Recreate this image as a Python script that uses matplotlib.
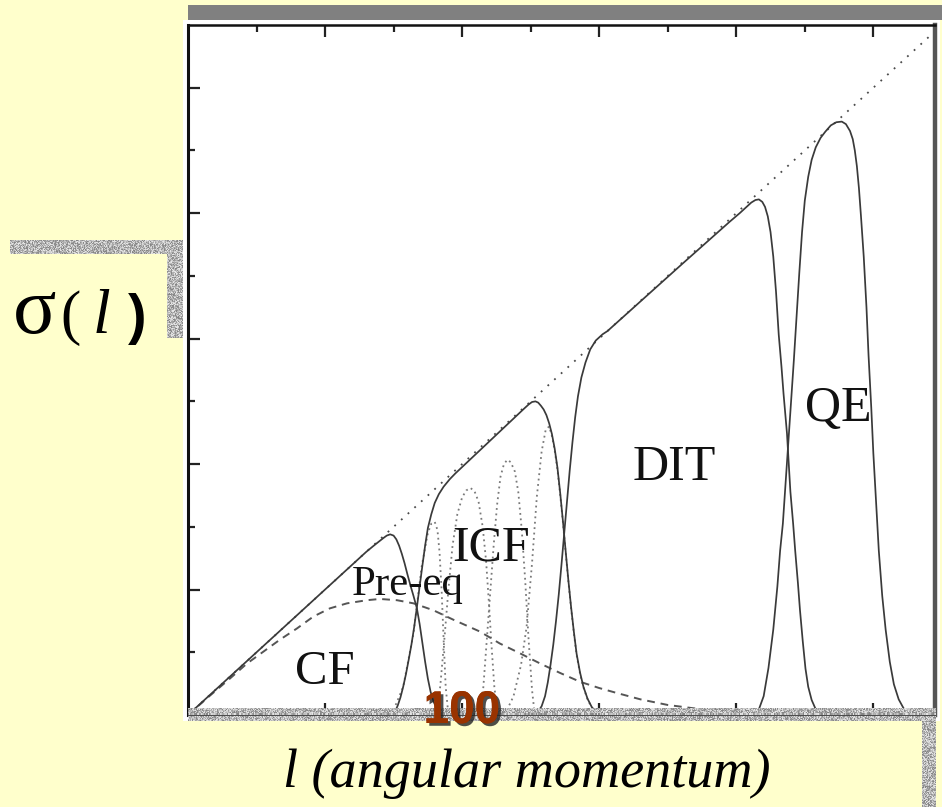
import numpy as np
import matplotlib
matplotlib.use("Agg")
import matplotlib.pyplot as plt
from matplotlib.patches import Rectangle
import matplotlib.patheffects as pe

# ---- partial cross sections sigma(l) versus angular momentum l ----
cf_l = [0.0, 2.6, 2.7, 2.78, 2.85, 2.9, 2.95, 3.0, 3.04, 3.08, 3.12, 3.16, 3.2, 3.25, 3.29,
        3.34, 3.38, 3.42, 3.46, 3.5, 3.54, 3.58, 3.63, 3.68, 3.74]
cf_s = [0.0, 2.6, 2.69, 2.76, 2.82, 2.86, 2.88, 2.86, 2.8, 2.7, 2.57, 2.42, 2.25, 2.05, 1.9,
        1.7, 1.45, 1.15, 0.85, 0.58, 0.37, 0.22, 0.1, 0.03, 0.0]

icf_l = [2.97, 3.02, 3.06, 3.1, 3.14, 3.18, 3.22, 3.26, 3.3, 3.34, 3.38, 3.42, 3.46, 3.5, 3.55,
         3.6, 3.66, 3.73, 3.82, 3.9, 4.9, 4.97, 5.02, 5.07, 5.11, 5.15, 5.19, 5.23, 5.27, 5.31,
         5.35, 5.39, 5.43, 5.47, 5.51, 5.55, 5.59, 5.63, 5.67, 5.72, 5.77, 5.83, 5.89, 5.95, 6.02]
icf_s = [0.0, 0.05, 0.15, 0.28, 0.45, 0.65, 0.88, 1.12, 1.4, 1.72, 2.05, 2.38, 2.7, 2.98, 3.2,
         3.38, 3.52, 3.64, 3.76, 3.85, 4.88, 4.95, 4.99, 5.0, 4.98, 4.93, 4.87, 4.78, 4.65, 4.48,
         4.25, 3.95, 3.55, 3.1, 2.62, 2.15, 1.72, 1.33, 0.98, 0.68, 0.45, 0.26, 0.13, 0.05, 0.0]

dit_l = [5.04, 5.1, 5.16, 5.21, 5.25, 5.29, 5.33, 5.37, 5.41, 5.45, 5.49, 5.53, 5.57, 5.61, 5.65,
         5.69, 5.74, 5.8, 5.87, 5.95, 6.05, 6.12, 7.2, 7.9, 8.05, 8.15, 8.22, 8.28, 8.33, 8.38,
         8.42, 8.46, 8.5, 8.54, 8.58, 8.62, 8.66, 8.69, 8.74, 8.79, 8.83, 8.86, 8.9, 8.93, 8.97,
         9.01, 9.05, 9.1, 9.16, 9.23]
dit_s = [0.0, 0.04, 0.14, 0.3, 0.52, 0.8, 1.12, 1.5, 1.92, 2.4, 2.9, 3.4, 3.9, 4.35, 4.75,
         5.08, 5.38, 5.62, 5.83, 5.97, 6.07, 6.12, 7.18, 7.86, 8.0, 8.1, 8.17, 8.21, 8.22, 8.18,
         8.1, 7.95, 7.7, 7.31, 6.75, 6.06, 5.55, 5.12, 4.49, 3.56, 3.05, 2.62, 2.1, 1.67, 1.18,
         0.74, 0.45, 0.24, 0.09, 0.0]

qe_l = [8.25, 8.32, 8.4, 8.47, 8.54, 8.6, 8.64, 8.68, 8.72, 8.76, 8.8, 8.84, 8.88, 8.92, 8.96,
        9.0, 9.05, 9.1, 9.16, 9.23, 9.3, 9.38, 9.46, 9.54, 9.6, 9.66, 9.7, 9.73, 9.76, 9.79,
        9.82, 9.86, 9.9, 9.93, 9.97, 10.0, 10.04, 10.08, 10.13, 10.18, 10.24, 10.3, 10.37,
        10.44, 10.51, 10.58]
qe_s = [0.0, 0.06, 0.3, 0.75, 1.36, 2.05, 2.62, 3.05, 3.7, 4.35, 5.0, 5.65, 6.35, 7.05, 7.7,
        8.2, 8.58, 8.85, 9.05, 9.2, 9.3, 9.4, 9.45, 9.46, 9.42, 9.31, 9.18, 9.0, 8.75, 8.4,
        7.95, 7.31, 6.5, 5.74, 4.9, 4.18, 3.4, 2.62, 1.9, 1.36, 0.85, 0.49, 0.25,
        0.11, 0.04, 0.0]

preeq_l = [0.0, 0.3, 0.6, 0.86, 1.1, 1.34, 1.59, 1.83, 2.07, 2.32, 2.61, 2.8, 3.05, 3.29, 3.58,
           3.87, 4.26, 4.55, 4.85, 5.14, 5.43, 5.72, 6.0, 6.26, 6.6, 7.0, 7.5, 8.0, 8.5, 9.0]
preeq_s = [0.0, 0.29, 0.57, 0.82, 1.01, 1.2, 1.38, 1.57, 1.7, 1.78, 1.83, 1.85, 1.83, 1.78, 1.67,
           1.52, 1.33, 1.14, 0.98, 0.82, 0.67, 0.53, 0.43, 0.35, 0.25, 0.16, 0.09, 0.05, 0.03, 0.02]

# individual incomplete-fusion channels
icf0_l = [2.97, 3.14, 3.29, 3.41, 3.5, 3.55, 3.6, 3.64, 3.67, 3.7, 3.73, 3.76, 3.8]
icf0_s = [0.0, 0.45, 1.3, 2.37, 2.9, 3.05, 3.08, 2.95, 2.6, 2.0, 1.2, 0.45, 0.0]
icf1_l = [3.62, 3.68, 3.74, 3.8, 3.86, 3.93, 4.0, 4.06, 4.12, 4.18, 4.24, 4.3, 4.35, 4.39,
          4.43, 4.47, 4.52]
icf1_s = [0.0, 0.45, 1.2, 2.0, 2.7, 3.2, 3.47, 3.58, 3.62, 3.57, 3.4, 3.0, 2.45, 1.8,
          1.09, 0.45, 0.0]
icf2_l = [4.26, 4.31, 4.36, 4.41, 4.46, 4.51, 4.56, 4.61, 4.66, 4.71, 4.77, 4.82, 4.87, 4.92,
          4.97, 5.02, 5.06]
icf2_s = [0.0, 0.45, 1.2, 1.95, 2.7, 3.35, 3.8, 4.0, 4.07, 4.03, 3.88, 3.55, 2.95, 2.15,
          1.2, 0.4, 0.0]
icf3_l = [4.62, 4.75, 4.86, 4.94, 5.02, 5.09, 5.16, 5.22, 5.27, 5.31, 5.35, 5.39, 5.43, 5.47,
          5.51, 5.55, 5.59, 5.63, 5.67, 5.72, 5.77, 5.83, 5.89, 5.95, 6.02]
icf3_s = [0.0, 0.3, 0.8, 1.4, 2.42, 3.48, 4.2, 4.55, 4.6, 4.45, 4.22, 3.92, 3.52, 3.08,
          2.6, 2.13, 1.7, 1.31, 0.96, 0.66, 0.44, 0.25, 0.12, 0.04, 0.0]

diag_l = [0.0, 10.85]
diag_s = [0.0, 10.85]

region_labels = ["CF", "Pre-eq", "ICF", "DIT", "QE"]
label_l = [2.0, 3.2, 4.42, 7.09, 9.49]
label_s = [0.69, 2.08, 2.66, 3.94, 4.88]
label_size = [35, 31, 36, 36, 36]

W, H = 942, 807
BG = "#FFFFCC"


def fx(px):
    return px / W


def fy(py):
    return 1 - py / H


def stipple(h, w, seed_a=7, seed_b=13):
    i, j = np.indices((h, w))
    v = ((i * seed_a + j * seed_b) ^ (i * j * 3 + j * 5 + i)) % 11 / 10.0
    return 0.52 + 0.38 * v


fig = plt.figure(figsize=(W / 100, H / 100), dpi=100, facecolor=BG)

# white canvas behind the graph
fig.patches.append(Rectangle((fx(183), fy(721)), (940 - 183) / W, (721 - 20) / H,
                             transform=fig.transFigure, facecolor="white",
                             edgecolor="none", zorder=0))

ax = fig.add_axes([fx(188), fy(715), (935 - 188) / W, (715 - 25) / H], zorder=1)
ax.set_facecolor("none")
ax.set_xlim(0, 10.9)
ax.set_ylim(0, 11)

# diagonal limit
ax.plot(diag_l, diag_s, color="#4a4a4a", lw=1.3, ls=(0, (1, 4)), zorder=2)

# ICF channels
for xs, ys in [(icf0_l, icf0_s), (icf1_l, icf1_s), (icf2_l, icf2_s), (icf3_l, icf3_s)]:
    ax.plot(xs, ys, color="#7a7a7a", lw=1.3, ls=(0, (1, 2)), zorder=2)

# pre-equilibrium
ax.plot(preeq_l, preeq_s, color="#555555", lw=1.4, ls=(0, (4, 3)), zorder=3)

# reaction mechanisms
for xs, ys in [(cf_l, cf_s), (icf_l, icf_s), (dit_l, dit_s), (qe_l, qe_s)]:
    ax.plot(xs, ys, color="#3a3a3a", lw=1.25, zorder=4, solid_joinstyle="round")

for name, lx, ly, sz in zip(region_labels, label_l, label_s, label_size):
    ax.text(lx, ly, name, ha="center", va="center", fontsize=sz,
            family="Liberation Serif", color="#111111", zorder=5)

# frame and ticks
ax.set_xticks(np.arange(2, 11, 2))
ax.set_xticks(np.arange(1, 11, 2), minor=True)
ax.set_yticks(np.arange(2, 11, 2))
ax.set_yticks(np.arange(1, 11, 2), minor=True)
ax.tick_params(which="both", direction="in", top=True, bottom=True, left=True, right=False,
               labelbottom=False, labelleft=False, color="#222222", width=1.6)
ax.tick_params(which="major", length=8.5)
ax.tick_params(which="minor", length=5)
ax.spines["left"].set_linewidth(2.2)
ax.spines["top"].set_linewidth(1.8)
ax.spines["left"].set_color("#111111")
ax.spines["top"].set_color("#111111")
ax.spines["right"].set_linewidth(3.2)
ax.spines["right"].set_color("#555555")
ax.spines["bottom"].set_visible(False)


def texture_bar(x0, y0, x1, y1, dark_row=None, a=7, b=13):
    h, w = y1 - y0, x1 - x0
    img = stipple(h, w, a, b)
    if dark_row is not None:
        img[dark_row, :] = 0.3
    bar = fig.add_axes([fx(x0), fy(y1), w / W, h / H], zorder=2)
    bar.imshow(img, cmap="gray", vmin=0, vmax=1, interpolation="nearest", aspect="auto")
    bar.set_axis_off()
    return bar


# decorative frames
texture_bar(188, 708, 936, 721, dark_row=7)
texture_bar(922, 721, 936, 807, a=5, b=11)
texture_bar(10, 240, 183, 254, a=9, b=7)
texture_bar(167, 254, 183, 338, a=3, b=17)
top = fig.add_axes([fx(188), fy(20), (942 - 188) / W, 15 / H], zorder=2)
top.set_facecolor("#808080")
top.set_xticks([])
top.set_yticks([])
for s in top.spines.values():
    s.set_visible(False)

# axis titles
fig.text(fx(13), fy(333), "σ", fontsize=58, family="Liberation Serif",
         ha="left", va="baseline", color="black", zorder=3)
fig.text(fx(60), fy(333), "(", fontsize=44, family="Liberation Serif",
         ha="left", va="baseline", color="black", zorder=3)
fig.text(fx(93), fy(333), "l", fontsize=46, family="Liberation Serif", style="italic",
         ha="left", va="baseline", color="black", zorder=3)
fig.text(fx(128), fy(333), ")", fontsize=40, family="Liberation Sans", weight="bold",
         ha="left", va="baseline", color="black", zorder=3)

fig.text(fx(527), fy(787), "l (angular momentum)", fontsize=39, family="Liberation Serif",
         style="italic", ha="center", va="baseline", color="black", zorder=3)

fig.text(fx(462), fy(711), "100", fontsize=33, family="Liberation Sans", weight="bold",
         color="#993300", ha="center", va="center", zorder=4,
         path_effects=[pe.withSimplePatchShadow(offset=(2, -2), shadow_rgbFace="#222222",
                                                alpha=0.8), pe.Normal()])

fig.savefig("out.png", dpi=100, facecolor=BG)
